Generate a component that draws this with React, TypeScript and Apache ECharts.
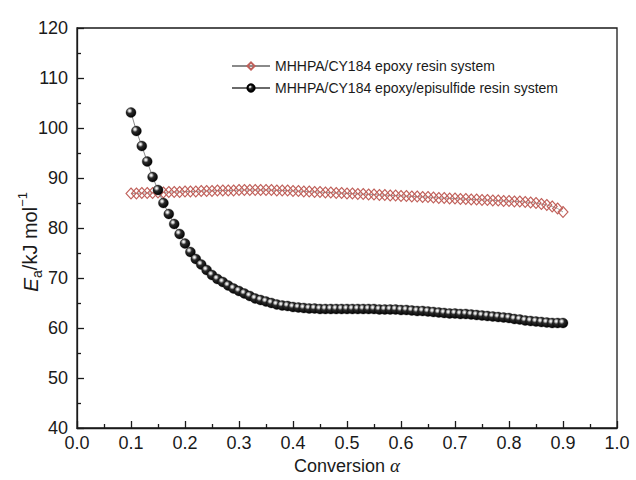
import React, { useEffect, useRef } from "react";
import * as echarts from "echarts";

const conversion: number[] = [
  0.1, 0.11, 0.12, 0.13, 0.14, 0.15, 0.16, 0.17, 0.18, 0.19,
  0.2, 0.21, 0.22, 0.23, 0.24, 0.25, 0.26, 0.27, 0.28, 0.29,
  0.3, 0.31, 0.32, 0.33, 0.34, 0.35, 0.36, 0.37, 0.38, 0.39,
  0.4, 0.41, 0.42, 0.43, 0.44, 0.45, 0.46, 0.47, 0.48, 0.49,
  0.5, 0.51, 0.52, 0.53, 0.54, 0.55, 0.56, 0.57, 0.58, 0.59,
  0.6, 0.61, 0.62, 0.63, 0.64, 0.65, 0.66, 0.67, 0.68, 0.69,
  0.7, 0.71, 0.72, 0.73, 0.74, 0.75, 0.76, 0.77, 0.78, 0.79,
  0.8, 0.81, 0.82, 0.83, 0.84, 0.85, 0.86, 0.87, 0.88, 0.89,
  0.9,
];

const epoxyEa: number[] = [
  86.9, 86.9, 87.0, 87.0, 87.0, 87.1, 87.1, 87.2, 87.2, 87.2,
  87.3, 87.3, 87.3, 87.4, 87.4, 87.4, 87.5, 87.5, 87.5, 87.5,
  87.6, 87.6, 87.6, 87.6, 87.6, 87.6, 87.6, 87.5, 87.5, 87.5,
  87.4, 87.4, 87.3, 87.3, 87.2, 87.2, 87.1, 87.1, 87.0, 87.0,
  86.9, 86.9, 86.8, 86.8, 86.7, 86.7, 86.6, 86.6, 86.5, 86.5,
  86.4, 86.4, 86.3, 86.3, 86.2, 86.2, 86.1, 86.0, 86.0, 85.9,
  85.9, 85.8, 85.8, 85.7, 85.7, 85.6, 85.6, 85.5, 85.5, 85.4,
  85.4, 85.3, 85.3, 85.2, 85.1, 85.0, 84.8, 84.6, 84.3, 83.9,
  83.2,
];

const episulfideEa: number[] = [
  103.1, 99.4, 96.4, 93.3, 90.2, 87.6, 85.0, 82.8, 80.8, 78.8,
  76.9, 75.2, 73.8, 72.7, 71.6, 70.6, 69.8, 69.2, 68.5, 67.9,
  67.4, 66.9, 66.4, 65.9, 65.6, 65.3, 65.0, 64.7, 64.5, 64.4,
  64.2, 64.1, 64.0, 63.9, 63.9, 63.8, 63.8, 63.8, 63.8, 63.8,
  63.8, 63.8, 63.8, 63.8, 63.8, 63.8, 63.7, 63.7, 63.7, 63.7,
  63.6, 63.6, 63.5, 63.4, 63.4, 63.3, 63.2, 63.1, 63.0, 62.9,
  62.9, 62.8, 62.8, 62.7, 62.6, 62.5, 62.4, 62.3, 62.2, 62.1,
  62.0, 61.8, 61.7, 61.5, 61.4, 61.3, 61.2, 61.1, 61.0, 61.0,
  61.0,
];

const seriesNames: string[] = [
  "MHHPA/CY184 epoxy resin system",
  "MHHPA/CY184 epoxy/episulfide resin system",
];

const FONT = "Liberation Sans";

export default function App() {
  const ref = useRef<HTMLDivElement>(null);

  useEffect(() => {
    if (!ref.current) return;
    const chart = echarts.init(ref.current, undefined, { renderer: "svg" });

    const sphere = new echarts.graphic.RadialGradient(0.36, 0.33, 0.7, [
      { offset: 0, color: "#ffffff" },
      { offset: 0.14, color: "#d8d8d8" },
      { offset: 0.4, color: "#2a2a2a" },
      { offset: 1, color: "#000000" },
    ]);

    chart.setOption({
      animation: false,
      backgroundColor: "#ffffff",
      grid: {
        left: 77,
        top: 28,
        right: 19,
        bottom: 51,
        show: true,
        borderColor: "#1a1a1a",
        borderWidth: 1.3,
        backgroundColor: "transparent",
      },
      legend: {
        orient: "vertical",
        left: 226,
        top: 54,
        itemWidth: 38,
        itemHeight: 9,
        itemGap: 8,
        textStyle: { fontFamily: FONT, fontSize: 14, color: "#1a1a1a" },
        data: seriesNames,
      },
      xAxis: {
        type: "value",
        min: 0,
        max: 1,
        interval: 0.1,
        name: "Conversion {i|α}",
        nameLocation: "middle",
        nameMoveOverlap: false,
        nameGap: 28,
        nameTextStyle: {
          fontFamily: FONT,
          fontSize: 18,
          color: "#1a1a1a",
          rich: {
            i: {
              fontFamily: "Liberation Serif",
              fontStyle: "italic",
              fontSize: 19,
              color: "#1a1a1a",
            },
          },
        },
        axisLine: { show: true, lineStyle: { color: "#1a1a1a", width: 1.3 } },
        axisTick: { show: true, inside: true, length: 7, lineStyle: { color: "#1a1a1a", width: 1.3 } },
        minorTick: { show: true, splitNumber: 2, length: 4, lineStyle: { color: "#1a1a1a", width: 1.3 } },
        splitLine: { show: false },
        axisLabel: {
          fontFamily: FONT,
          fontSize: 18,
          color: "#1a1a1a",
          margin: 6,
          formatter: (v: number) => v.toFixed(1),
        },
      },
      yAxis: {
        type: "value",
        min: 40,
        max: 120,
        interval: 10,
        name: "{e|E}{s|a}{n|/kJ mol}{p|−1}",
        nameLocation: "middle",
        nameRotate: 90,
        nameMoveOverlap: false,
        nameGap: 33,
        nameTextStyle: {
          fontFamily: FONT,
          fontSize: 20,
          color: "#1a1a1a",
          padding: [0, 28, 0, 0],
          rich: {
            e: { fontFamily: FONT, fontStyle: "italic", fontSize: 21, lineHeight: 28, color: "#1a1a1a" },
            s: { fontFamily: FONT, fontSize: 14, lineHeight: 14, verticalAlign: "bottom", color: "#1a1a1a" },
            n: { fontFamily: FONT, fontSize: 20, lineHeight: 28, color: "#1a1a1a" },
            p: { fontFamily: FONT, fontSize: 13, lineHeight: 13, verticalAlign: "top", color: "#1a1a1a" },
          },
        },
        axisLine: { show: true, lineStyle: { color: "#1a1a1a", width: 1.3 } },
        axisTick: { show: true, inside: true, length: 7, lineStyle: { color: "#1a1a1a", width: 1.3 } },
        minorTick: { show: true, splitNumber: 2, length: 4, lineStyle: { color: "#1a1a1a", width: 1.3 } },
        splitLine: { show: false },
        axisLabel: { fontFamily: FONT, fontSize: 18, color: "#1a1a1a", margin: 9 },
      },
      series: [
        {
          name: seriesNames[0],
          type: "line",
          data: conversion.map((x, i) => [x, epoxyEa[i]]),
          symbol: "diamond",
          symbolSize: [10, 11],
          showAllSymbol: true,
          lineStyle: { color: "#8a8a8a", width: 0.8 },
          itemStyle: { color: "rgba(255,255,255,0)", borderColor: "#c0605a", borderWidth: 1.1 },
          z: 2,
        },
        {
          name: seriesNames[1],
          type: "line",
          data: conversion.map((x, i) => [x, episulfideEa[i]]),
          symbol: "circle",
          symbolSize: 10,
          showAllSymbol: true,
          lineStyle: { color: "#6a6a6a", width: 0.8 },
          itemStyle: { color: sphere, borderColor: "#000", borderWidth: 0.3 },
          z: 3,
        },
      ],
    });

    return () => chart.dispose();
  }, []);

  return (
    <div
      ref={ref}
      style={{ position: "fixed", left: 0, top: 0, width: 636, height: 480 }}
    />
  );
}
